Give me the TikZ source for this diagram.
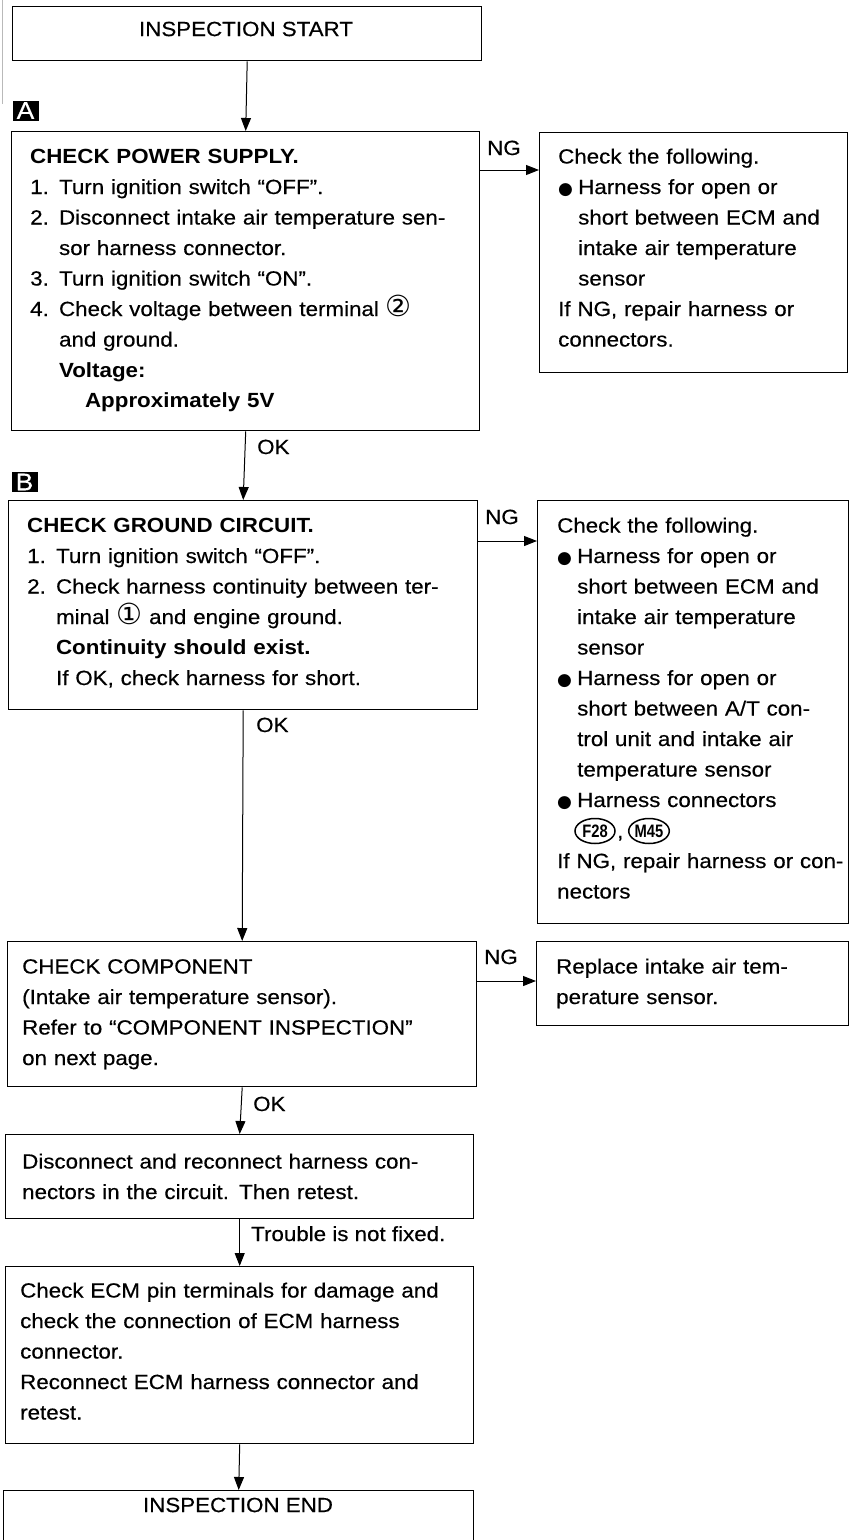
\documentclass[tikz,border=0pt]{standalone}
\usepackage{fontspec}
\setmainfont{Liberation Sans}[FakeStretch=1.09, UprightFeatures={FakeBold=0.4}]
\newfontfamily\symfont{DejaVu Sans}
\newfontfamily\narrowfont{Liberation Sans}[FakeStretch=0.82]
\usetikzlibrary{arrows.meta,shapes.geometric}

% body text: 20.5pt type on a 30.5pt line pitch
\newcommand{\bodyfont}{\fontsize{20.5}{30.5}\selectfont}
% bullet and the matching hanging indent
\newcommand{\bul}{\makebox[20pt][l]{\symfont\fontsize{17}{17}\selectfont ●}}
\newcommand{\ind}{\hspace*{20pt}}
% circled terminal numbers
\newcommand{\circd}[1]{{\symfont\fontsize{29}{29}\selectfont #1}}

\begin{document}
\begin{tikzpicture}[x=1pt,y=-1pt,
  box/.style={draw, line width=1.4pt, anchor=north west, inner sep=0pt},
  body/.style={anchor=base west, inner sep=0pt, text width=470pt, align=left, font=\bodyfont},
  title/.style={inner sep=0pt, font=\bodyfont},
  lbl/.style={anchor=base west, inner sep=0pt, font=\bodyfont},
  flow/.style={draw, line width=1pt, -{Triangle[length=13pt,width=10pt]}},
  tag/.style={fill=black, text=white, inner sep=0pt, minimum width=26pt, minimum height=20pt,
              font=\fontsize{24}{24}\selectfont},
  conn/.style={draw, ellipse, line width=1.5pt, inner sep=0pt, minimum width=40pt,
               minimum height=25pt, font=\narrowfont\bfseries\fontsize{18}{18}\selectfont}]

\useasboundingbox (0,0) rectangle (856,1540);

% page edge line
\draw[gray!55, line width=0.8pt] (2,0) -- (2,104);

% ---- main column ----
\node[box, minimum width=469pt, minimum height=54pt] (start) at (12,6) {};
\node[title] (starttext) at (246,29) {INSPECTION START};

\node[tag] (tagA) at (25.5,110.5) {A};
\node[box, minimum width=468pt, minimum height=299pt] (boxA) at (11,131) {};
\node[body] (textA) at (30,163.5) {%
\textbf{CHECK POWER SUPPLY.}\\
1. Turn ignition switch “OFF”.\\
2. Disconnect intake air temperature sen-\\
\phantom{2. }sor harness connector.\\
3. Turn ignition switch “ON”.\\
4. Check voltage between terminal \circd{②}\\
\phantom{4. }and ground.\\
\phantom{4. }\textbf{Voltage:}\\
\phantom{4. }\hspace*{26pt}\textbf{Approximately 5V}};

\node[tag] (tagB) at (24.5,482) {B};
\node[box, minimum width=469pt, minimum height=209pt] (boxB) at (8,500) {};
\node[body] (textB) at (27,532.5) {%
\textbf{CHECK GROUND CIRCUIT.}\\
1. Turn ignition switch “OFF”.\\
2. Check harness continuity between ter-\\
\phantom{2. }minal \circd{①} and engine ground.\\
\phantom{2. }\textbf{Continuity should exist.}\\
\phantom{2. }If OK, check harness for short.};

\node[box, minimum width=469pt, minimum height=145pt] (comp) at (7,941) {};
\node[body] (textC) at (22,973.5) {%
CHECK COMPONENT\\
(Intake air temperature sensor).\\
Refer to “COMPONENT INSPECTION”\\
on next page.};

\node[box, minimum width=468pt, minimum height=84pt] (recon) at (5,1134) {};
\node[body] (textD) at (22,1168.5) {%
Disconnect and reconnect harness con-\\
nectors in the circuit. Then retest.};

\node[box, minimum width=468pt, minimum height=177pt] (ecm) at (5,1266) {};
\node[body] (textE) at (20,1297.5) {%
Check ECM pin terminals for damage and\\
check the connection of ECM harness\\
connector.\\
Reconnect ECM harness connector and\\
retest.};

\node[box, minimum width=470pt, minimum height=52pt] (finish) at (3,1490) {};
\node[title] (finishtext) at (238,1505) {INSPECTION END};

% ---- right column ----
\node[box, minimum width=308pt, minimum height=240pt] (fixA) at (539,132) {};
\node[body] (textFA) at (558,163.5) {%
Check the following.\\
\bul Harness for open or\\
\ind short between ECM and\\
\ind intake air temperature\\
\ind sensor\\
If NG, repair harness or\\
connectors.};

\node[box, minimum width=311pt, minimum height=423pt] (fixB) at (537,500) {};
\node[body] (textFB) at (557,532.5) {%
Check the following.\\
\bul Harness for open or\\
\ind short between ECM and\\
\ind intake air temperature\\
\ind sensor\\
\bul Harness for open or\\
\ind short between A/T con-\\
\ind trol unit and intake air\\
\ind temperature sensor\\
\bul Harness connectors\\
\mbox{}\\
If NG, repair harness or con-\\
nectors};
\node[conn] (f28) at (595,831) {F28};
\node[lbl] (comma) at (617,838) {,};
\node[conn] (m45) at (649,831) {M45};

\node[box, minimum width=312pt, minimum height=84pt] (replace) at (536,941) {};
\node[body] (textR) at (556,973.5) {%
Replace intake air tem-\\
perature sensor.};

% ---- connectors ----
\draw[flow] (start.south) -- (boxA.north);
\draw[flow] (boxA.south) -- (boxB.north);
\draw[flow] (boxB.south) -- (comp.north);
\draw[flow] (comp.south) -- (recon.north);
\draw[flow] (recon.south) -- (ecm.north);
\draw[flow] (ecm.south) -- (finish.north);

\path ([yshift=-39pt]boxA.north east) coordinate (ngA);
\path ([yshift=-41pt]boxB.north east) coordinate (ngB);
\path ([yshift=-40pt]comp.north east) coordinate (ngC);
\draw[flow] (ngA) -- (ngA -| fixA.west);
\draw[flow] (ngB) -- (ngB -| fixB.west);
\draw[flow] (ngC) -- (ngC -| replace.west);

% ---- branch labels ----
\node[lbl] (ngAl) at (487,155) {NG};
\node[lbl] (ngBl) at (485,524) {NG};
\node[lbl] (ngCl) at (484,964) {NG};
\node[lbl] (okA) at (257,454) {OK};
\node[lbl] (okB) at (256,732) {OK};
\node[lbl] (okC) at (253,1111) {OK};
\node[lbl] (notfixed) at (251,1241) {Trouble is not fixed.};

\end{tikzpicture}
\end{document}
